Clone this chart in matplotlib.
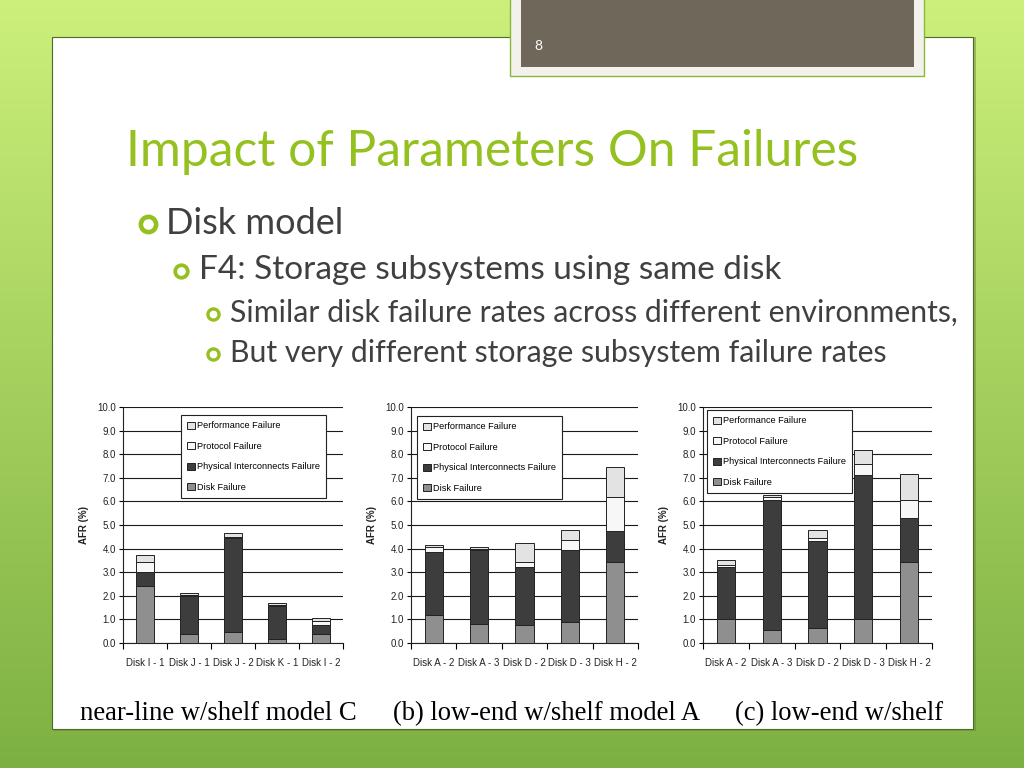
import numpy as np
import matplotlib
matplotlib.use("Agg")
import matplotlib.pyplot as plt
from matplotlib.patches import Rectangle, Patch

# ---- data (AFR %) ----
labels_c = ["Disk I - 1", "Disk J - 1", "Disk J - 2", "Disk K - 1", "Disk I - 2"]
disk_c = [2.40, 0.40, 0.45, 0.15, 0.40]
phys_c = [0.60, 1.60, 4.00, 1.40, 0.37]
prot_c = [0.45, 0.05, 0.05, 0.05, 0.15]
perf_c = [0.27, 0.05, 0.15, 0.08, 0.13]

labels_a = ["Disk A - 2", "Disk A - 3", "Disk D - 2", "Disk D - 3", "Disk H - 2"]
disk_a = [1.20, 0.80, 0.75, 0.88, 3.42]
phys_a = [2.65, 3.15, 2.45, 3.05, 1.33]
prot_a = [0.20, 0.05, 0.22, 0.42, 1.42]
perf_a = [0.12, 0.05, 0.80, 0.45, 1.30]

labels_s = ["Disk A - 2", "Disk A - 3", "Disk D - 2", "Disk D - 3", "Disk H - 2"]
disk_s = [1.02, 0.57, 0.62, 1.00, 3.43]
phys_s = [2.18, 5.50, 3.70, 6.10, 1.85]
prot_s = [0.12, 0.13, 0.15, 0.50, 0.77]
perf_s = [0.20, 0.08, 0.30, 0.58, 1.13]

series_names = ["Disk Failure", "Physical Interconnects Failure",
                "Protocol Failure", "Performance Failure"]
series_colors = ["#8f8f8f", "#3d3d3d", "#f7f7f7", "#e3e3e3"]

captions = ["near-line w/shelf model C", "(b) low-end w/shelf model A",
            "(c) low-end w/shelf"]

W, H = 1024, 768
fig = plt.figure(figsize=(10.24, 7.68), dpi=100)


def fx(x):
    return x / W


def fy(y):
    return 1 - y / H


# ---- slide background ----
bg = fig.add_axes([0, 0, 1, 1])
bg.set_axis_off()
grad = np.linspace(0, 1, 256)[:, None]
top = np.array([0.80, 0.94, 0.48])
bot = np.array([0.49, 0.69, 0.26])
img = top[None, None, :] * (1 - grad[..., None]) + bot[None, None, :] * grad[..., None]
bg.imshow(img, aspect="auto", extent=[0, 1, 0, 1], origin="upper")
bg.set_xlim(0, 1)
bg.set_ylim(0, 1)

# white panel
bg.add_patch(Rectangle((fx(54), fy(731)), fx(922), 694 / H, facecolor="#6b8a3a",
                       edgecolor="none", alpha=0.5))
bg.add_patch(Rectangle((fx(52), fy(729)), fx(921), 692 / H, facecolor="white",
                       edgecolor="#4d6b22", linewidth=0.8))

# page number box
bg.add_patch(Rectangle((fx(510), fy(76)), fx(414), 80 / H, facecolor="#f2f1ec",
                       edgecolor="#8cb83a", linewidth=1.0))
bg.add_patch(Rectangle((fx(521), fy(67)), fx(393), 71 / H, facecolor="#6e675a",
                       edgecolor="none"))
bg.text(fx(534), fy(46), "8", color="white", fontsize=10, va="center",
        ha="left", family="Lato")

# title and bullets
green = "#94c11f"
txt = "#404040"
bg.text(fx(126), fy(152), "Impact of Parameters On Failures", color=green,
        fontsize=35.8, va="center", ha="left", family="Lato")

bullets = [
    (148, 166, 223, 26, "Disk model", 11),
    (181, 199, 270, 24, "F4: Storage subsystems using same disk", 9),
    (213, 230, 313, 21.8, "Similar disk failure rates across different environments,", 8),
    (213, 230, 353, 21.8, "But very different storage subsystem failure rates", 8),
]
for bx, tx, y, fs, s, ms in bullets:
    bg.plot(fx(bx), fy(y + 1), "o", markersize=ms, markerfacecolor="white",
            markeredgecolor=green, markeredgewidth=ms * 0.3)
    bg.text(fx(tx), fy(y), s, color=txt, fontsize=fs, va="center", ha="left",
            family="Lato")

# ---- the three stacked bar charts ----
narrow = ["Liberation Sans Narrow", "Liberation Sans", "DejaVu Sans"]
panels = [
    (123, 343, labels_c, [disk_c, phys_c, prot_c, perf_c], (181, 415)),
    (411, 638, labels_a, [disk_a, phys_a, prot_a, perf_a], (417, 416)),
    (703, 932, labels_s, [disk_s, phys_s, prot_s, perf_s], (707, 410)),
]
cap_x = [80, 393, 735]

for i, (x0, x1, labels, vals, lg) in enumerate(panels):
    ax = fig.add_axes([fx(x0), fy(643), fx(x1 - x0), (643 - 407) / H])
    x = np.arange(len(labels))
    bottom = np.zeros(len(labels))
    for v, name, c in zip(vals, series_names, series_colors):
        ax.bar(x, v, width=0.4, bottom=bottom, color=c, edgecolor="#222222",
               linewidth=0.7, label=name, zorder=3)
        bottom += np.array(v)
    ax.set_xlim(-0.5, len(labels) - 0.5)
    ax.set_ylim(0, 10)
    ax.set_yticks(np.arange(0, 10.1, 1.0))
    ax.set_yticklabels([f"{t:.1f}" for t in np.arange(0, 10.1, 1.0)],
                       fontsize=7, family=narrow, color="#222222")
    ax.set_xticks(x)
    ax.set_xticklabels(labels, fontsize=7, family=narrow, color="#222222")
    ax.set_xticks(np.arange(-0.5, len(labels)), minor=True)
    ax.tick_params(axis="x", which="major", length=0, pad=11)
    ax.tick_params(axis="x", which="minor", length=4, width=0.8, direction="out")
    ax.tick_params(axis="y", length=3, width=0.8, pad=2)
    ax.yaxis.grid(True, color="#1a1a1a", linewidth=0.8, zorder=0)
    for s in ["top", "right"]:
        ax.spines[s].set_visible(False)
    ax.spines["left"].set_color("#222222")
    ax.spines["bottom"].set_color("#222222")
    ax.set_ylabel("AFR (%)", fontsize=7, family=narrow, fontweight="bold",
                  color="#222222", labelpad=6)
    ax.set_facecolor("none")

    handles = [Patch(facecolor=c, edgecolor="#222222", linewidth=0.7)
               for c in series_colors][::-1]
    lx0, ly0 = lg
    leg = fig.legend(handles, series_names[::-1], loc="upper left",
                     bbox_to_anchor=(fx(lx0), fy(ly0)),
                     prop={"family": narrow, "size": 6.6},
                     frameon=True, fancybox=False, edgecolor="#222222",
                     framealpha=1, borderpad=0.7, labelspacing=1.25,
                     handlelength=0.8, handleheight=0.8, handletextpad=0.25,
                     borderaxespad=0)
    leg.get_frame().set_linewidth(0.8)
    leg.set_zorder(10)

    bg.text(fx(cap_x[i]), fy(714), captions[i], fontsize=19.2,
            family="Liberation Serif", va="center", ha="left", color="black")

fig.savefig("out.png", dpi=100)
